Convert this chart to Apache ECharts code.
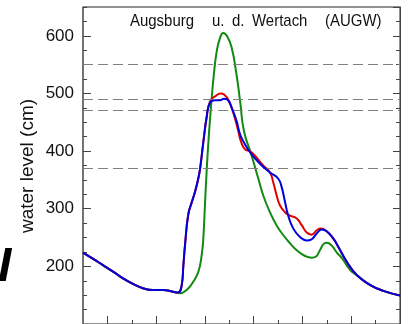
<!DOCTYPE html>
<html>
<head>
<meta charset="utf-8">
<script src="https://cdn.jsdelivr.net/npm/echarts@6/dist/echarts.min.js"></script>
<style>
  html, body { margin: 0; padding: 0; background: #fff; }
  #chart { width: 411px; height: 324px; }
</style>
</head>
<body>
<div id="chart"></div>
<script>
// Water level at Augsburg u. d. Wertach (AUGW), hours since start of window, level in cm.

// Blue hydrograph
const blueHours = [0, 5, 9.8, 14.8, 19.7, 24.6, 29.5, 34.4, 39.4, 44.3, 46.7,
  48.6, 49.4, 50.2, 51.8, 53.5, 55.1, 56.7, 57.6, 59.2, 60.9, 62.5, 65.0, 67.4, 69.4,
  71.0, 73.2, 75.6, 77.3, 79.7, 82.2, 87.1, 92.0, 96.1, 97.8, 99.4, 101.0, 103.5,
  106.8, 110.1, 112.5, 115.0, 117.5, 119.9, 123.2, 125.6, 129.8, 134.7,
  141.2, 147.8, 156];
const blueLevel = [224, 213, 202, 191, 179, 169.5, 162, 159, 159, 156, 154.6,
  168, 202, 237, 290, 311, 329, 352, 369, 415, 460, 484, 488, 488, 491,
  489.7, 475, 452, 429, 412, 398, 378, 363, 352, 337, 312, 288, 265.5,
  251, 245, 247, 257, 264, 261, 248, 234, 208, 185,
  168, 157.5, 149.5];

// Red hydrograph
const redHours = [0, 5, 9.8, 14.8, 19.7, 24.6, 29.5, 34.4, 39.4, 44.3, 46.7,
  48.6, 49.4, 50.2, 51.8, 53.5, 55.1, 56.7, 57.6, 59.2, 60.9, 62.5, 65.0, 67.9, 69.4,
  71.5, 73.9, 76.4, 77.6, 79.7, 82.2, 84.6, 88.7, 92.0, 93.6, 95.3, 96.9, 99.4,
  101.9, 105.2, 107.7, 110.1, 112.5, 115.0, 117.0, 119.9, 123.2, 125.6, 129.8,
  134.7, 141.2, 147.8, 156];
const redLevel = [224, 213, 202, 191, 179, 169.5, 162, 159, 159, 156, 154.6,
  168, 202, 237, 290, 311, 329, 352, 369, 415, 460, 486, 495, 500, 498,
  489, 467, 435, 418, 403, 399.5, 392, 375, 363, 346, 323, 306, 294,
  288, 283, 271, 258.6, 255, 262.6, 265.5, 261, 248, 234, 208,
  185, 168, 157.5, 149.5];

// Green hydrograph
const greenHours = [0, 5, 9.8, 14.8, 19.7, 24.6, 29.5, 34.4, 39.4, 44.3,
  47.7, 51.0, 54.3, 56.8, 58.4, 59.2, 60.0, 60.9, 61.7, 62.5, 63.3, 64.4, 65.8, 67.4,
  69.0, 71.0, 73.2, 75.3, 77.3, 79.2, 83.0, 86.3, 88.7, 92.0, 95.3, 98.6, 101.9,
  105.2, 109.3, 112.6, 114.7, 116.6, 118.8, 120.0, 122.4, 124.9, 127.5, 131.4,
  134.7, 141.2, 147.8, 156];
const greenLevel = [224, 213, 202, 191, 179, 169.5, 162, 159, 159, 156,
  153.4, 159, 173.6, 191, 219.6, 248, 305.7, 369, 415, 455, 490, 533, 573, 596,
  605, 599, 579, 538.5, 487, 435, 392, 352, 323, 294, 271, 254, 240,
  228, 218, 215, 217, 228, 240, 241, 236, 224, 214, 194,
  185, 168, 157.5, 149.5];

// Warning levels (cm)
const warnLevels = [550, 490, 470, 370];

// Axis ticks
const dayTicks = [12, 36, 60, 84, 108, 132, 156];
const halfDayTicks = [24, 48, 72, 96, 120, 144];
const levelLabels = [200, 300, 400, 500, 600];

const pairs = (xs, ys) => xs.map((x, i) => [x, ys[i]]);

const FONT = '"Liberation Sans", Arial, sans-serif';
const chart = echarts.init(document.getElementById('chart'), null, { renderer: 'canvas' });

const yBase = { type: 'value', min: 100, max: 650, splitLine: { show: false } };
const xBase = { type: 'value', min: 0, max: 156, position: 'bottom', splitLine: { show: false }, axisLabel: { show: false } };

const curve = (name, color, data, z) => ({
  name, type: 'line', data, z,
  showSymbol: false, symbol: 'none',
  smooth: 0.5,
  lineStyle: { color, width: 2 },
  silent: true
});

const titleWord = (text, x) => ({
  type: 'text', x, y: 21, scaleX: 0.88,
  style: { text, font: '17px ' + FONT, fill: '#111', textAlign: 'left', textVerticalAlign: 'middle', align: 'left', verticalAlign: 'middle' }
});

chart.setOption({
  animation: false,
  backgroundColor: '#fff',
  grid: { left: 83, top: 7, width: 317, height: 319, show: true, borderColor: '#222', borderWidth: 1 },
  xAxis: [
    Object.assign({}, xBase, {
      axisLine: { show: true, onZero: false, lineStyle: { color: '#333' } },
      axisTick: { show: true, inside: true, length: 8, customValues: dayTicks, lineStyle: { color: '#444' } }
    }),
    Object.assign({}, xBase, {
      axisLine: { show: false, onZero: false },
      axisTick: { show: true, inside: true, length: 4, customValues: halfDayTicks, lineStyle: { color: '#444' } }
    })
  ],
  yAxis: [
    Object.assign({}, yBase, {
      position: 'left', interval: 100,
      axisLine: { show: true, onZero: false, lineStyle: { color: '#6a6a6a', width: 1.5 } },
      axisTick: { show: true, inside: true, length: 8, lineStyle: { color: '#444' } },
      axisLabel: {
        show: true, margin: 9, fontSize: 17, fontFamily: FONT, color: '#111',
        showMinLabel: false, showMaxLabel: false,
        formatter: v => (levelLabels.indexOf(v) >= 0 ? String(v) : '')
      }
    }),
    Object.assign({}, yBase, {
      position: 'left', interval: 25,
      axisLine: { show: false, onZero: false },
      axisTick: { show: true, inside: true, length: 4, lineStyle: { color: '#444' } },
      axisLabel: { show: false }
    }),
    Object.assign({}, yBase, {
      position: 'right', interval: 100,
      axisLine: { show: true, onZero: false, lineStyle: { color: '#444' } },
      axisTick: { show: true, inside: true, length: 7, lineStyle: { color: '#444' } },
      axisLabel: { show: false }
    }),
    Object.assign({}, yBase, {
      position: 'right', interval: 25,
      axisLine: { show: false, onZero: false },
      axisTick: { show: true, inside: true, length: 4, lineStyle: { color: '#444' } },
      axisLabel: { show: false }
    })
  ],
  series: [
    {
      name: 'warn', type: 'line', data: [], z: 1, silent: true,
      markLine: {
        silent: true, symbol: 'none', animation: false,
        label: { show: false },
        lineStyle: { color: '#808080', width: 1, type: [10, 5] },
        data: warnLevels.map(v => ({ yAxis: v }))
      }
    },
    curve('green', '#118a11', pairs(greenHours, greenLevel), 3),
    curve('red', '#e00000', pairs(redHours, redLevel), 4),
    curve('blue', '#0000dd', pairs(blueHours, blueLevel), 5)
  ],
  graphic: [
    titleWord('Augsburg', 130),
    titleWord('u.', 212),
    titleWord('d.', 232),
    titleWord('Wertach', 252),
    titleWord('(AUGW)', 325),
    { type: 'text', x: 28, y: 166, rotation: Math.PI / 2, style: { text: 'water level (cm)', font: '19px ' + FONT, fill: '#111', textAlign: 'center', textVerticalAlign: 'middle', align: 'center', verticalAlign: 'middle' } },
    { type: 'text', x: -2, y: 268, style: { text: 'I', font: 'italic bold 48px ' + FONT, fill: '#000', textAlign: 'left', textVerticalAlign: 'middle', align: 'left', verticalAlign: 'middle' } }
  ]
});
</script>
</body>
</html>
